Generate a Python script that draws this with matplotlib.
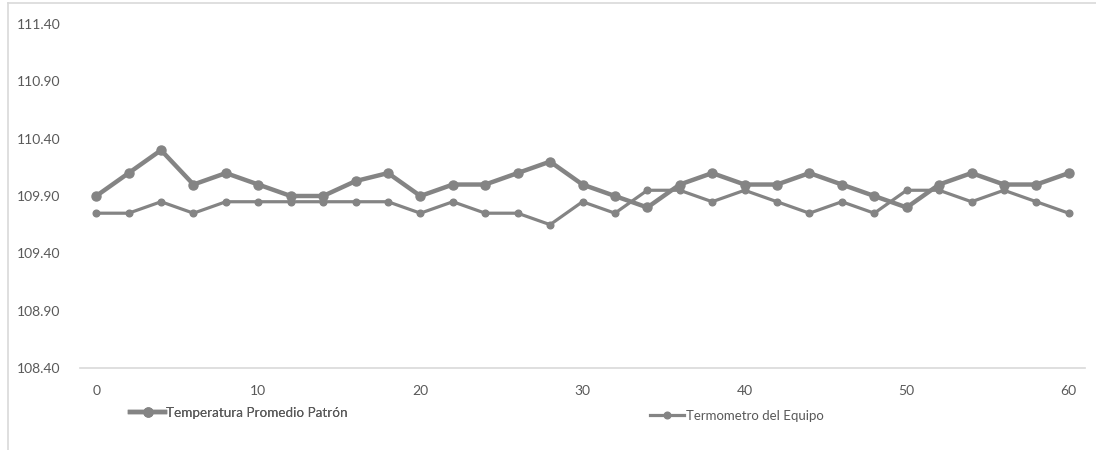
import numpy as np
import matplotlib
matplotlib.use('Agg')
import matplotlib.pyplot as plt
from matplotlib.lines import Line2D

plt.rcParams['font.family'] = ['Lato', 'DejaVu Sans']

minutos = list(range(0, 61, 2))
patron = [109.90, 110.10, 110.30, 110.00, 110.10, 110.00, 109.90, 109.90, 110.03, 110.10,
          109.90, 110.00, 110.00, 110.10, 110.20, 110.00, 109.90, 109.80, 110.00, 110.10,
          110.00, 110.00, 110.10, 110.00, 109.90, 109.80, 110.00, 110.10, 110.00, 110.00,
          110.10]
equipo = [109.75, 109.75, 109.85, 109.75, 109.85, 109.85, 109.85, 109.85, 109.85, 109.85,
          109.75, 109.85, 109.75, 109.75, 109.65, 109.85, 109.75, 109.95, 109.95, 109.85,
          109.95, 109.85, 109.75, 109.85, 109.75, 109.95, 109.95, 109.85, 109.95, 109.85,
          109.75]
yticks = [108.40, 108.90, 109.40, 109.90, 110.40, 110.90, 111.40]
xticks = [0, 10, 20, 30, 40, 50, 60]

W, H = 1096, 450
fig = plt.figure(figsize=(W / 100, H / 100), dpi=100)
ax = fig.add_axes([80 / W, 1 - 368 / H, (1085 - 80) / W, (368 - 24) / H])

gris = '#848484'
ax.plot(minutos, equipo, color=gris, lw=2.3, marker='o', ms=4.8, zorder=2)
ax.plot(minutos, patron, color=gris, lw=3.2, marker='o', ms=6.5, zorder=3)

ax.set_xlim(-1, 61)
ax.set_ylim(108.40, 111.40)
ax.set_yticks(yticks)
ax.set_yticklabels(['%.2f' % v for v in yticks])
ax.set_xticks(xticks)
for s in ['top', 'right', 'left']:
    ax.spines[s].set_visible(False)
ax.spines['bottom'].set_color('#d9d9d9')
ax.spines['bottom'].set_linewidth(1.2)
ax.tick_params(axis='both', length=0, labelsize=10, colors='#595959')
ax.tick_params(axis='x', pad=12)
ax.tick_params(axis='y', pad=14)

# legend entries placed like the original
h1 = Line2D([], [], color=gris, lw=3.2, marker='o', ms=6.5)
h2 = Line2D([], [], color=gris, lw=2.3, marker='o', ms=4.8)
leg1 = fig.legend([h1], ['Temperatura Promedio Patrón'], loc='center left',
                  bbox_to_anchor=(118 / W, 1 - 413 / H), frameon=False, fontsize=9.7,
                  handlelength=2.6, handletextpad=0.1, labelcolor='#595959')
fig.legend([h2], ['Termometro del Equipo'], loc='center left',
           bbox_to_anchor=(638 / W, 1 - 416 / H), frameon=False, fontsize=9.5,
           handlelength=2.6, handletextpad=0.1, labelcolor='#595959')
fig.add_artist(leg1)

# outer chart border (left and top visible)
fig.add_artist(Line2D([8 / W, 8 / W], [0, 1 - 3 / H], color='#d9d9d9', lw=1.2))
fig.add_artist(Line2D([8 / W, 1], [1 - 3 / H, 1 - 3 / H], color='#d9d9d9', lw=1.2))

fig.savefig('out.png', dpi=100)
